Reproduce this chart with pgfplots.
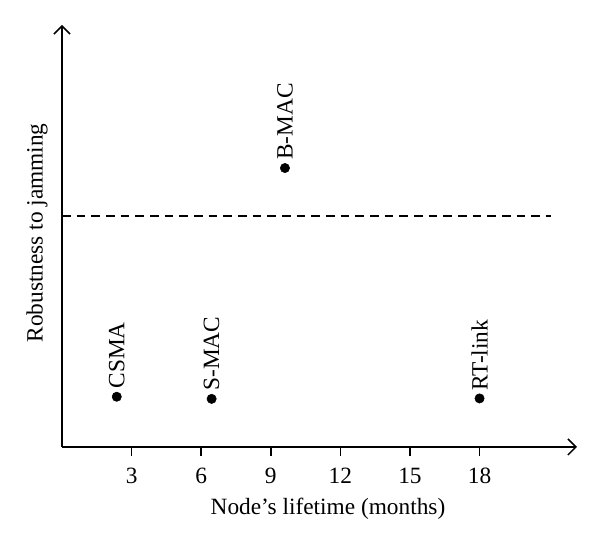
\documentclass[border=0pt]{standalone}
\usepackage{fontspec}
\setmainfont{Liberation Serif}
\usepackage{pgfplots}
\pgfplotsset{compat=1.18}
\usetikzlibrary{arrows.meta}

\pgfplotstableread{
x     y     label
2.36  1.19  CSMA
6.45  1.14  S-MAC
9.61  6.61  B-MAC
18.0  1.15  RT-link
}\protocols

\begin{document}
\fontsize{17.5}{20}\selectfont
\begin{tikzpicture}
\begin{axis}[
    scale only axis,
    width=386.25pt,
    height=316.5pt,
    xmin=0, xmax=22.2,
    ymin=0, ymax=10,
    axis lines=left,
    axis line style={line width=1.1pt},
    x axis line style={-{Straight Barb[length=6pt,width=12pt,line width=1.1pt]}},
    y axis line style={-{Straight Barb[length=6pt,width=12pt,line width=1.1pt]}},
    xtick={3,6,9,12,15,18},
    ytick=\empty,
    tick align=outside,
    major tick length=6.75pt,
    xtick style={line width=1.1pt, black},
    /pgf/number format/assume math mode=true,
    xticklabel style={yshift=-3pt},
    xlabel={Node’s lifetime (months)},
    ylabel={Robustness to jamming},
    every axis x label/.style={at={(rel axis cs:0.5165,-0.147)}, anchor=center},
    every axis y label/.style={at={(rel axis cs:-0.0485,0.507)}, rotate=90, anchor=center},
    clip=false,
]
\addplot[black, line width=1.1pt, dash pattern=on 6.5pt off 4.5pt] coordinates {(0,5.47) (21.1,5.47)};
\addplot[only marks, mark=*, mark size=3.5pt, black,
    nodes near coords, point meta=explicit symbolic,
    every node near coord/.style={rotate=90, anchor=west, inner sep=6pt, black}]
    table[x=x, y=y, meta=label] {\protocols};
\path (rel axis cs:-0.1204,-0.2346) rectangle (rel axis cs:1.0447,1.0592);
\end{axis}
\end{tikzpicture}
\end{document}
